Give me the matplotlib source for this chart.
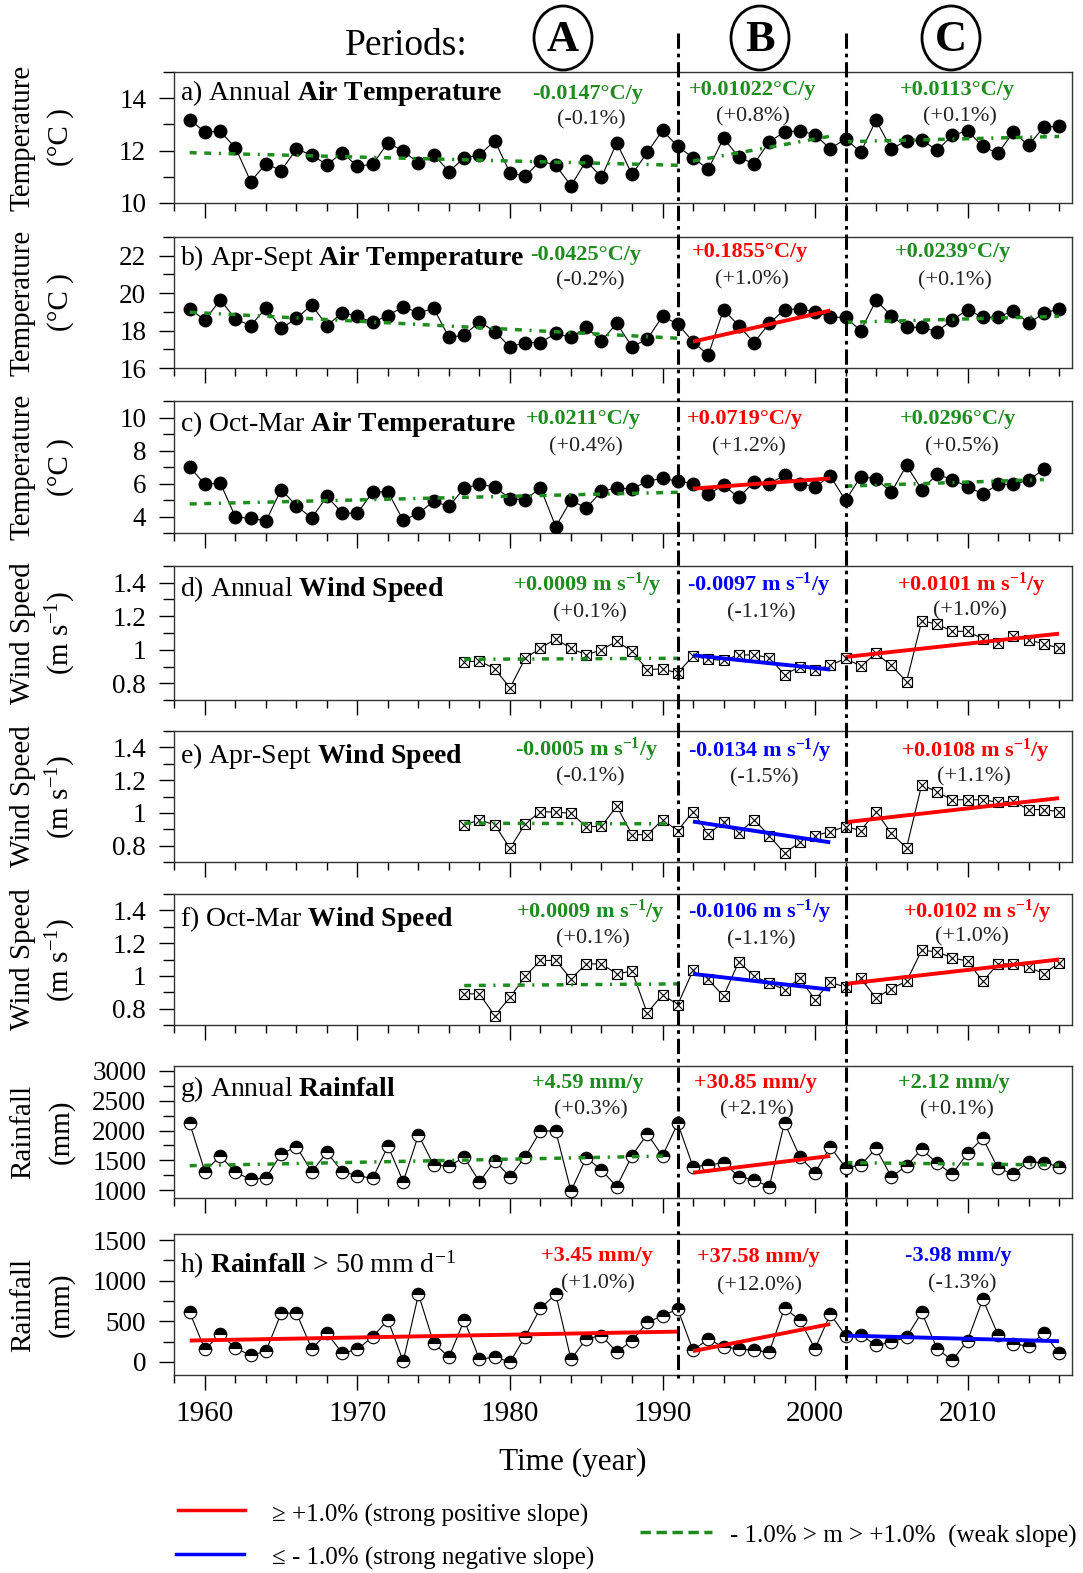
import numpy as np
import matplotlib
matplotlib.use('Agg')
import matplotlib.pyplot as plt
from matplotlib.patches import Ellipse
from matplotlib.lines import Line2D
import matplotlib.transforms as mtransforms
from matplotlib.ticker import MultipleLocator

plt.rcParams['font.family'] = ['Liberation Serif', 'DejaVu Serif']
plt.rcParams['mathtext.fontset'] = 'custom'
plt.rcParams['mathtext.rm'] = 'Liberation Serif'
plt.rcParams['mathtext.bf'] = 'Liberation Serif:bold'
plt.rcParams['mathtext.it'] = 'Liberation Serif:italic'
plt.rcParams['mathtext.default'] = 'rm'

# ---------------- data ----------------
years = np.arange(1959, 2017)
years_c = np.arange(1959, 2016)
years_wind = np.arange(1977, 2017)

air_annual = [13.18, 12.71, 12.73, 12.11, 10.82, 11.50, 11.24, 12.06, 11.83, 11.46,
              11.92, 11.40, 11.48, 12.30, 11.98, 11.53, 11.85, 11.20, 11.73, 11.83,
              12.38, 11.15, 11.02, 11.61, 11.44, 10.66, 11.61, 10.98, 12.30, 11.09,
              11.93, 12.77, 12.16, 11.73, 11.29, 12.47, 11.76, 11.49, 12.34, 12.71,
              12.76, 12.60, 12.07, 12.45, 11.94, 13.16, 12.07, 12.37, 12.41, 12.01,
              12.58, 12.76, 12.16, 11.89, 12.71, 12.20, 12.90, 12.93]
air_aprsep = [19.16, 18.56, 19.64, 18.62, 18.26, 19.21, 18.12, 18.65, 19.37, 18.26,
              18.96, 18.76, 18.44, 18.80, 19.28, 18.94, 19.19, 17.63, 17.76, 18.47,
              17.95, 17.13, 17.36, 17.36, 17.85, 17.63, 18.17, 17.45, 18.38, 17.14,
              17.54, 18.76, 18.35, 17.41, 16.68, 19.12, 18.26, 17.36, 18.38, 19.12,
              19.16, 19.01, 18.71, 18.71, 17.99, 19.61, 18.80, 18.17, 18.17, 17.95,
              18.56, 19.12, 18.71, 18.71, 19.07, 18.40, 18.92, 19.16]
air_octmar = [7.00, 5.94, 6.04, 3.96, 3.90, 3.73, 5.63, 4.65, 3.90, 5.22,
              4.20, 4.20, 5.49, 5.49, 3.76, 4.20, 4.92, 4.61, 5.73, 5.94,
              5.80, 5.08, 5.02, 5.73, 3.39, 4.98, 4.51, 5.53, 5.73, 5.67,
              6.14, 6.31, 6.14, 6.00, 5.37, 5.88, 5.16, 6.08, 6.00, 6.49,
              6.00, 5.80, 6.45, 4.98, 6.41, 6.29, 5.47, 7.10, 5.63, 6.55,
              6.24, 5.80, 5.37, 5.94, 5.94, 6.20, 6.86]
wind_annual = [0.927, 0.933, 0.886, 0.773, 0.949, 1.010, 1.065, 1.008, 0.969, 1.000,
               1.051, 0.990, 0.882, 0.886, 0.861, 0.963, 0.943, 0.937, 0.969, 0.969,
               0.953, 0.851, 0.898, 0.882, 0.906, 0.949, 0.902, 0.978, 0.906, 0.810,
               1.173, 1.153, 1.110, 1.110, 1.065, 1.041, 1.082, 1.059, 1.035, 1.010]
wind_aprsep = [0.927, 0.957, 0.927, 0.784, 0.933, 1.008, 1.004, 0.998, 0.916, 0.918,
               1.041, 0.867, 0.867, 0.957, 0.892, 1.008, 0.871, 0.943, 0.876, 0.959,
               0.861, 0.753, 0.820, 0.861, 0.886, 0.916, 0.892, 1.008, 0.876, 0.786,
               1.173, 1.127, 1.080, 1.080, 1.080, 1.065, 1.071, 1.020, 1.020, 1.008]
wind_octmar = [0.890, 0.890, 0.757, 0.869, 0.998, 1.094, 1.094, 0.982, 1.073, 1.073,
               1.012, 1.029, 0.773, 0.886, 0.824, 1.033, 0.978, 0.876, 1.086, 0.998,
               0.957, 0.916, 0.984, 0.855, 0.961, 0.931, 0.984, 0.865, 0.922, 0.967,
               1.157, 1.147, 1.110, 1.090, 0.967, 1.073, 1.073, 1.055, 1.012, 1.080]
rain_annual = [2121, 1308, 1577, 1297, 1179, 1207, 1605, 1729, 1308, 1633,
               1308, 1241, 1196, 1740, 1140, 1925, 1420, 1404, 1549, 1140,
               1488, 1224, 1560, 1992, 1992, 983, 1544, 1336, 1056, 1577,
               1942, 1572, 2121, 1392, 1420, 1460, 1224, 1168, 1056, 2132,
               1560, 1291, 1729, 1376, 1420, 1700, 1224, 1404, 1689, 1448,
               1269, 1617, 1869, 1364, 1269, 1476, 1460, 1392]
rain_50 = [610, 154, 346, 171, 81, 134, 602, 602, 163, 354,
           110, 154, 313, 516, 8, 833, 232, 61, 516, 33,
           61, 0, 313, 663, 833, 33, 285, 325, 122, 264,
           488, 569, 650, 142, 285, 183, 163, 142, 122, 663,
           516, 163, 589, 325, 337, 203, 244, 305, 610, 163,
           20, 264, 772, 337, 224, 195, 354, 110]

# trend segments: (x0, y0, x1, y1, class)
trend_a = [(1959, 11.92, 1991, 11.44, 'weak'), (1992, 11.60, 2001, 12.55, 'weak'), (2002, 12.34, 2016, 12.54, 'weak')]
trend_b = [(1959, 18.98, 1991, 17.59, 'weak'), (1992, 17.41, 2001, 19.07, 'pos'), (2002, 18.44, 2016, 18.76, 'weak')]
trend_c = [(1959, 4.76, 1991, 5.47, 'weak'), (1992, 5.69, 2001, 6.31, 'pos'), (2002, 5.84, 2015, 6.24, 'weak')]
trend_d = [(1977, 0.943, 1991, 0.949, 'weak'), (1992, 0.967, 2001, 0.882, 'neg'), (2002, 0.957, 2016, 1.096, 'pos')]
trend_e = [(1977, 0.937, 1990.5, 0.933, 'weak'), (1992, 0.947, 2001, 0.820, 'neg'), (2002, 0.943, 2016, 1.090, 'pos')]
trend_f = [(1977, 0.941, 1991, 0.951, 'weak'), (1992, 1.012, 2001, 0.916, 'neg'), (2002, 0.951, 2016, 1.100, 'pos')]
trend_g = [(1959, 1409, 1990.3, 1572, 'weak'), (1992, 1291, 2001, 1572, 'pos'), (2002, 1460, 2016, 1420, 'weak')]
trend_h = [(1959, 264, 1991, 374, 'pos'), (1992, 134, 2001, 467, 'pos'), (2002, 325, 2016, 256, 'neg')]

slopes_a = ['-0.0147°C/y', '+0.01022°C/y', '+0.0113°C/y']
slopes_b = ['-0.0425°C/y', '+0.1855°C/y', '+0.0239°C/y']
slopes_c = ['+0.0211°C/y', '+0.0719°C/y', '+0.0296°C/y']
WU = r' m s$^{\mathbf{-1}}$/y'
slopes_d = ['+0.0009' + WU, '-0.0097' + WU, '+0.0101' + WU]
slopes_e = ['-0.0005' + WU, '-0.0134' + WU, '+0.0108' + WU]
slopes_f = ['+0.0009' + WU, '-0.0106' + WU, '+0.0102' + WU]
slopes_g = ['+4.59 mm/y', '+30.85 mm/y', '+2.12 mm/y']
slopes_h = ['+3.45 mm/y', '+37.58 mm/y', '-3.98 mm/y']

pct_a = ['(-0.1%)', '(+0.8%)', '(+0.1%)']
pct_b = ['(-0.2%)', '(+1.0%)', '(+0.1%)']
pct_c = ['(+0.4%)', '(+1.2%)', '(+0.5%)']
pct_d = ['(+0.1%)', '(-1.1%)', '(+1.0%)']
pct_e = ['(-0.1%)', '(-1.5%)', '(+1.1%)']
pct_f = ['(+0.1%)', '(-1.1%)', '(+1.0%)']
pct_g = ['(+0.3%)', '(+2.1%)', '(+0.1%)']
pct_h = ['(+1.0%)', '(+12.0%)', '(-1.3%)']

titles = [r'a) Annual $\mathbf{Air\ Temperature}$',
          r'b) Apr-Sept $\mathbf{Air\ Temperature}$',
          r'c) Oct-Mar $\mathbf{Air\ Temperature}$',
          r'd) Annual $\mathbf{Wind\ Speed}$',
          r'e) Apr-Sept $\mathbf{Wind\ Speed}$',
          r'f) Oct-Mar $\mathbf{Wind\ Speed}$',
          r'g) Annual $\mathbf{Rainfall}$',
          r'h) $\mathbf{Rainfall}$ > 50 mm d$^{-1}$']
ylabels1 = ['Temperature'] * 3 + ['Wind Speed'] * 3 + ['Rainfall'] * 2
ylabels2 = ['(°C )'] * 3 + [r'(m s$^{-1}$)'] * 3 + ['(mm)'] * 2
period_divides = [1991, 2002]
xtick_years = [1960, 1970, 1980, 1990, 2000, 2010]

# ---------------- styling ----------------
G = '#1e8c1e'
R = '#ff0000'
B = '#0000ff'
cls_col = {'weak': G, 'pos': R, 'neg': B}

W, H = 1083, 1573
fig = plt.figure(figsize=(W / 100, H / 100), dpi=100)


def fx(px):
    return px / W


def fy(py):
    return 1 - py / H


L, Rr = 174, 1072
boxes = [(72, 203), (237, 368), (401, 533), (566, 700), (731, 862), (894, 1025), (1066, 1198), (1234, 1375)]
title_y = [93, 258, 424, 589, 756, 919, 1089, 1265]
ylims = [(10, 15), (16, 23), (3, 11), (0.7, 1.5), (0.7, 1.5), (0.7, 1.5), (866, 3084), (-160, 1575)]
ymaj = [2, 2, 2, 0.2, 0.2, 0.2, 500, 500]
ymin = [1, 1, 1, 0.1, 0.1, 0.1, 250, 250]
xs = [years, years, years_c, years_wind, years_wind, years_wind, years, years]
ys = [air_annual, air_aprsep, air_octmar, wind_annual, wind_aprsep, wind_octmar, rain_annual, rain_50]
mstyle = ['full', 'full', 'full', 'box', 'box', 'box', 'half', 'half']
trends = [trend_a, trend_b, trend_c, trend_d, trend_e, trend_f, trend_g, trend_h]
slopes = [slopes_a, slopes_b, slopes_c, slopes_d, slopes_e, slopes_f, slopes_g, slopes_h]
pcts = [pct_a, pct_b, pct_c, pct_d, pct_e, pct_f, pct_g, pct_h]
slope_cols = [[G, G, G], [G, R, G], [G, R, G], [G, B, R], [G, B, R], [G, B, R], [G, R, G], [R, R, B]]

slope_pos = [[(588, 92), (753, 88), (957, 88)],
             [(586, 253), (750, 250), (953, 250)],
             [(583, 417), (745, 417), (958, 417)],
             [(587, 583), (759, 583), (971, 583)],
             [(587, 748), (760, 749), (975, 749)],
             [(590, 910), (760, 910), (977, 910)],
             [(588, 1081), (755, 1081), (954, 1081)],
             [(597, 1254), (758, 1255), (958, 1254)]]
pct_pos = [[(591, 120), (753, 117), (960, 117)],
           [(590, 281), (752, 280), (955, 281)],
           [(586, 447), (749, 447), (962, 447)],
           [(590, 613), (761, 613), (970, 611)],
           [(590, 777), (764, 778), (974, 777)],
           [(593, 939), (761, 940), (972, 937)],
           [(591, 1110), (757, 1110), (957, 1110)],
           [(598, 1284), (759, 1286), (962, 1284)]]

axes = []
for i in range(8):
    top, bot = boxes[i]
    ax = fig.add_axes([fx(L), fy(bot), fx(Rr - L), (bot - top) / H])
    axes.append(ax)
    ax.set_xlim(1957.97, 2016.85)
    ax.set_ylim(*ylims[i])
    ax.xaxis.set_major_locator(matplotlib.ticker.FixedLocator(xtick_years))
    ax.xaxis.set_minor_locator(MultipleLocator(2))
    ax.yaxis.set_major_locator(MultipleLocator(ymaj[i]))
    ax.yaxis.set_minor_locator(MultipleLocator(ymin[i]))
    ax.tick_params(axis='x', which='major', direction='out', length=11, width=1, pad=8,
                   labelsize=21, labelbottom=(i == 7))
    ax.tick_params(axis='x', which='minor', direction='out', length=6, width=1)
    ax.tick_params(axis='y', which='major', direction='out', length=11, width=1, pad=9, labelsize=19.5)
    ax.tick_params(axis='y', which='minor', direction='out', length=8, width=1)
    for s in ax.spines.values():
        s.set_linewidth(1.0)
        s.set_color('#333333')
    if i in (3, 4, 5):
        ax.yaxis.set_major_formatter(matplotlib.ticker.FuncFormatter(lambda v, p: ('%g' % round(v, 2))))

    x = xs[i]
    y = ys[i]
    ax.plot(x, y, color='black', lw=0.8, zorder=2)
    if mstyle[i] == 'full':
        ax.plot(x, y, 'o', ms=9, mfc='black', mec='black', zorder=3, lw=0)
    elif mstyle[i] == 'box':
        ax.plot(x, y, 's', ms=7.5, mfc='white', mec='black', mew=0.8, zorder=3, lw=0)
        ax.plot(x, y, 'x', ms=6.5, mec='black', mew=0.8, zorder=3.1, lw=0)
    else:
        ax.plot(x, y, 'o', ms=9, mfc='black', mfcalt='white', fillstyle='top',
                mec='black', mew=0.8, zorder=3, lw=0)

    for (x0, y0, x1, y1, c) in trends[i]:
        if c == 'weak':
            ax.plot([x0, x1], [y0, y1], color=G, lw=2.5, linestyle=(0, (2, 2.2, 2, 2.2, 0.6, 2.2)), zorder=5)
        else:
            ax.plot([x0, x1], [y0, y1], color=cls_col[c], lw=2.8, zorder=5, solid_capstyle='butt')

    fig.text(fx(180), fy(title_y[i]), titles[i], ha='left', va='center', fontsize=20)
    for k in range(3):
        sx, sy = slope_pos[i][k]
        fig.text(fx(sx), fy(sy + 2), slopes[i][k], ha='center', va='center', fontsize=16,
                 fontweight='bold', color=slope_cols[i][k])
        px_, py_ = pct_pos[i][k]
        fig.text(fx(px_), fy(py_), pcts[i][k], ha='center', va='center', fontsize=16, color='#222222')

    yc = (top + bot) / 2
    fig.text(fx(23), fy(yc), ylabels1[i], rotation=90, ha='center', va='center', fontsize=21)
    fig.text(fx(61), fy(yc), ylabels2[i], rotation=90, ha='center', va='center', fontsize=21)

fig.text(fx(573), fy(1462), 'Time (year)', ha='center', va='center', fontsize=22.5)

# period dividers across whole figure
blend = mtransforms.blended_transform_factory(axes[0].transData, fig.transFigure)
for xd in period_divides:
    ln = Line2D([xd, xd], [fy(33), fy(1378)], transform=blend, color='black', lw=2.2,
                linestyle=(0, (5, 1.6, 1.2, 1.6)), zorder=10)
    fig.add_artist(ln)

# header
fig.text(fx(406), fy(46), 'Periods:', ha='center', va='center', fontsize=27)
for lab, cx in zip(['A', 'B', 'C'], [563, 760, 951]):
    e = Ellipse((fx(cx), fy(38)), fx(58), 64 / H, transform=fig.transFigure,
                facecolor='none', edgecolor='black', lw=2)
    fig.add_artist(e)
    fig.text(fx(cx), fy(40), lab, ha='center', va='center', fontsize=32, fontweight='bold')

# legend
fig.add_artist(Line2D([fx(178), fx(245)], [fy(1510), fy(1510)], color=R, lw=2.5))
fig.text(fx(272), fy(1515), '≥ +1.0% (strong positive slope)', ha='left', va='center', fontsize=18)
fig.add_artist(Line2D([fx(176), fx(244)], [fy(1554), fy(1554)], color=B, lw=2.5))
fig.text(fx(272), fy(1558), '≤ - 1.0% (strong negative slope)', ha='left', va='center', fontsize=18)
fig.add_artist(Line2D([fx(640), fx(712)], [fy(1532), fy(1532)], color=G, lw=2.5, linestyle=(0, (3, 1.6))))
fig.text(fx(730), fy(1536), '- 1.0% > m > +1.0%  (weak slope)', ha='left', va='center', fontsize=18)

fig.savefig('out.png', dpi=100)
